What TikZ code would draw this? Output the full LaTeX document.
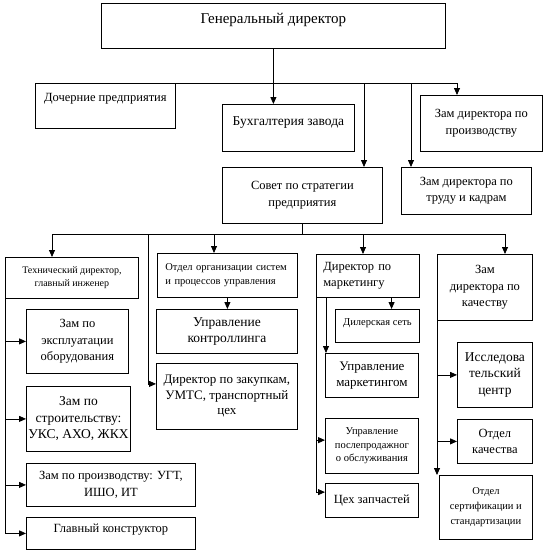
\documentclass[tikz,border=0pt]{standalone}
\usepackage{fontspec}
\setmainfont{Liberation Serif}
\usetikzlibrary{arrows.meta}

\begin{document}
\begin{tikzpicture}[x=1pt, y=-1pt,
      box/.style={draw, line width=0.8pt, anchor=north west, align=center, inner xsep=2pt, inner ysep=1pt,
                  font=\fontsize{12.5}{16.5}\selectfont},
      smalltext/.style={font=\fontsize{10.5}{13.5}\selectfont},
      bigtext/.style={font=\fontsize{13.5}{16.5}\selectfont},
      ln/.style={line width=0.8pt},
      arr/.style={-{Triangle[length=7pt, width=6pt]}, line width=0.8pt}]
    \useasboundingbox (0,0) rectangle (544,555);

    % upper levels
    \node[box, minimum width=344pt, minimum height=45pt, text depth=16pt, font=\fontsize{15}{18}\selectfont] (gd) at (101,3) {Генеральный директор};
    \node[box, minimum width=140pt, minimum height=45pt, text depth=16pt] (doch) at (35,83) {Дочерние предприятия};
    \node[box, bigtext, minimum width=132pt, minimum height=47pt, text depth=14pt] (buh) at (222,104) {Бухгалтерия завода};
    \node[box, minimum width=122pt, minimum height=56pt] (zprod) at (420,95) {Зам директора по\\ производству};
    \node[box, minimum width=160pt, minimum height=56pt] (sovet) at (222,167) {Совет по стратегии\\ предприятия};
    \node[box, minimum width=130pt, minimum height=47pt] (ztrud) at (401,167) {Зам директора по\\ труду и кадрам};

    % directors
    \node[box, font=\fontsize{10}{13}\selectfont, minimum width=133pt, minimum height=41pt] (tech) at (5,257) {Технический директор,\\ главный инженер};
    \node[box, smalltext, align=left, text width=124pt, inner xsep=8pt, minimum height=44pt] (otdorg) at (157,253) {Отдел организации систем\\ и процессов управления};
    \node[box, align=left, text width=89pt, inner xsep=7pt, minimum height=43pt] (dirmark) at (316,254) {Директор по\\ маркетингу};
    \node[box, minimum width=95pt, minimum height=66pt] (zkach) at (437,254) {Зам\\ директора по\\ качеству};

    % technical branch
    \node[box, minimum width=102pt, minimum height=64pt] (zexpl) at (26,309) {Зам по\\ эксплуатации\\ оборудования};
    \node[box, bigtext, minimum width=102pt, minimum height=65pt] (zstroi) at (26,386) {Зам по\\ строительству:\\ УКС, АХО, ЖКХ};
    \node[box, minimum width=169pt, minimum height=43pt] (zprod2) at (26,463) {Зам по производству: УГТ,\\ ИШО, ИТ};
    \node[box, minimum width=169pt, minimum height=32pt, text depth=10pt] (glavk) at (26,517) {Главный конструктор};

    % organisation branch
    \node[box, bigtext, minimum width=141pt, minimum height=44pt] (upkontr) at (156,309) {Управление\\ контроллинга};
    \node[box, font=\fontsize{13}{15.5}\selectfont, minimum width=141pt, minimum height=66pt] (dirzak) at (156,363) {Директор по закупкам,\\ УМТС, транспортный\\ цех};

    % marketing branch
    \node[box, smalltext, minimum width=84pt, minimum height=33pt, text depth=8pt] (diler) at (335,309) {Дилерская сеть};
    \node[box, font=\fontsize{13}{15.5}\selectfont, minimum width=93pt, minimum height=44pt] (upmark) at (325,353) {Управление\\ маркетингом};
    \node[box, smalltext, minimum width=93pt, minimum height=55pt] (upposl) at (325,418) {Управление\\ послепродажног\\ о обслуживания};
    \node[box, minimum width=93pt, minimum height=34pt] (tseh) at (325,483) {Цех запчастей};

    % quality branch
    \node[box, bigtext, minimum width=75pt, minimum height=65pt] (issled) at (457,342) {Исследова\\ тельский\\ центр};
    \node[box, minimum width=75pt, minimum height=44pt] (otdkach) at (457,419) {Отдел\\ качества};
    \node[box, smalltext, minimum width=93pt, minimum height=64pt, font=\fontsize{10.5}{15}\selectfont] (otdsert) at (439,475) {Отдел\\ сертификации и\\ стандартизации};

    % connectors, first bus
    \coordinate (bus1w) at (35,83);
    \coordinate (bus1e) at (457,83);
    \coordinate (s1) at (364,83);
    \coordinate (s2) at (411,83);
    \draw[ln] (bus1w) -- (bus1e);
    \draw[arr] (gd.south) -- (gd.south |- buh.north);
    \draw[arr] (s1) -- (s1 |- sovet.north);
    \draw[arr] (s2) -- (s2 |- ztrud.north);
    \draw[arr] (bus1e) -- (bus1e |- zprod.north);

    % second bus
    \coordinate (bus2w) at (52,234);
    \coordinate (bus2e) at (505,234);
    \coordinate (b2) at (214,234);
    \coordinate (b3) at (363,234);
    \coordinate (b4) at (148,234);
    \draw[ln] (sovet.south) -- (sovet.south |- bus2w);
    \draw[ln] (bus2w) -- (bus2e);
    \draw[arr] (bus2w) -- (bus2w |- tech.north);
    \draw[arr] (b2) -- (b2 |- otdorg.north);
    \draw[arr] (b3) -- (b3 |- dirmark.north);
    \draw[arr] (bus2e) -- (bus2e |- zkach.north);
    \draw[arr] (b4) |- (dirzak.170);

    % technical director
    \draw[arr] (tech.south west) |- (glavk.west);
    \draw[arr] (tech.south west |- zexpl.west) -- (zexpl.west);
    \draw[arr] (tech.south west |- zstroi.west) -- (zstroi.west);
    \draw[arr] (tech.south west |- zprod2.west) -- (zprod2.west);

    % organisation department
    \draw[arr] (otdorg.south) -- (otdorg.south |- upkontr.north);

    % marketing director
    \coordinate (m1) at (326,297);
    \draw[arr] (diler.50 |- dirmark.south) -- (diler.50);
    \draw[arr] (m1) -- (m1 |- upmark.north);
    \draw[arr] (dirmark.south west) |- (tseh.170);
    \draw[arr] (dirmark.south west |- upposl.173) -- (upposl.173);

    % quality director
    \draw[arr] (zkach.south west) -- (zkach.south west |- otdsert.north);
    \draw[arr] (zkach.south west |- issled.west) -- (issled.west);
    \draw[arr] (zkach.south west |- otdkach.west) -- (otdkach.west);
  \end{tikzpicture}
\end{document}
